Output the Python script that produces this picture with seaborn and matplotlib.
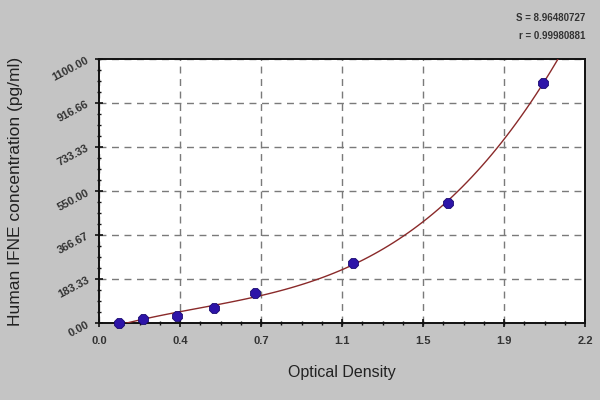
import numpy as np
import pandas as pd
import matplotlib
matplotlib.use("Agg")
import matplotlib.pyplot as plt
import seaborn as sns
from matplotlib.ticker import AutoMinorLocator

# standard curve points
od = [0.092, 0.198, 0.352, 0.522, 0.706, 1.148, 1.582, 2.009]
conc = [0.0, 15.6, 31.25, 62.5, 125.0, 250.0, 500.0, 1000.0]

x_ticks = [0.0, 0.3667, 0.7333, 1.1, 1.4667, 1.8333, 2.2]
x_labels = ['0.0', '0.4', '0.7', '1.1', '1.5', '1.9', '2.2']
y_ticks = [0.0, 183.33, 366.67, 550.0, 733.33, 916.66, 1100.0]
y_labels = ['0.00', '183.33', '366.67', '550.00', '733.33', '916.66', '1100.00']

stats_lines = ['S = 8.96480727', 'r = 0.99980881']

df = pd.DataFrame({'od': od, 'conc': conc})

sns.set_style('white')
plt.rcParams['font.family'] = ['Liberation Sans', 'DejaVu Sans']

fig = plt.figure(figsize=(6, 4), dpi=100, facecolor='#c4c4c4')
ax = fig.add_axes([0.165, 0.1925, 0.81, 0.66])
ax.set_facecolor('white')
ax.set_xlim(0, 2.2)
ax.set_ylim(0, 1100)
ax.set_autoscale_on(False)

# fitted standard curve
sns.regplot(data=df, x='od', y='conc', order=3, ci=None, scatter=False,
            truncate=False, ax=ax, color='#8a2a2a',
            line_kws={'linewidth': 1.0, 'zorder': 4})
sns.scatterplot(data=df, x='od', y='conc', ax=ax, marker='8', s=60,
                color='#2d14a8', edgecolor='#1a0a70', linewidth=0.6, zorder=5,
                clip_on=False)

ax.set_xlim(0, 2.2)
ax.set_ylim(0, 1100)
ax.set_xticks(x_ticks)
ax.set_xticklabels(x_labels, fontsize=8, color='#333333', fontweight='bold')
ax.set_yticks(y_ticks)
ax.set_yticklabels(y_labels, fontsize=8, color='#333333', fontweight='bold',
                   rotation=28, ha='right', rotation_mode='anchor')
ax.xaxis.set_minor_locator(AutoMinorLocator(4))
ax.yaxis.set_minor_locator(AutoMinorLocator(4))
ax.tick_params(which='major', direction='inout', length=6, width=1.2,
               color='#111111', left=True, bottom=True)
ax.tick_params(which='minor', direction='inout', length=3.5, width=1.0,
               color='#111111', left=True, bottom=True)
ax.tick_params(axis='x', pad=6)
ax.tick_params(axis='y', pad=5)

ax.grid(True, which='major', linestyle=(0, (5, 4)), color='#7a7a7a',
        linewidth=1.0)
ax.set_axisbelow(True)
for s in ax.spines.values():
    s.set_color('#111111')
    s.set_linewidth(1.4)

ax.set_xlabel('Optical Density', fontsize=11.5, color='#222222', labelpad=14)
ax.set_ylabel('Human IFNE concentration (pg/ml)', fontsize=12.5, color='#222222',
              labelpad=20)

fig.text(0.975, 0.955, stats_lines[0], ha='right', va='center', fontsize=7,
         color='#333333', fontweight='bold')
fig.text(0.975, 0.91, stats_lines[1], ha='right', va='center', fontsize=7,
         color='#333333', fontweight='bold')

fig.savefig('out.png', dpi=100, facecolor=fig.get_facecolor())
